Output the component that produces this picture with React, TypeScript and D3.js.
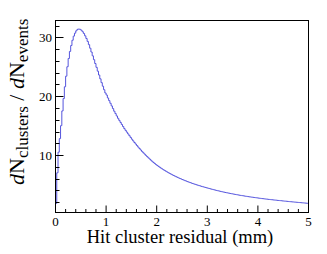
import React from "react";
import * as d3 from "d3";

const binWidth = 0.025;
const xMin = 0;
const xMax = 5;
const counts: number[] = [
  1.8, 7.0, 10.5, 12.8, 15.0, 17.5, 19.6, 21.6, 23.4, 25.0,
  26.4, 27.6, 28.6, 29.5, 30.2, 30.7, 31.1, 31.35, 31.4, 31.35,
  31.2, 30.95, 30.65, 30.25, 29.8, 29.3, 28.75, 28.15, 27.5, 26.85,
  26.2, 25.55, 24.9, 24.25, 23.6, 22.95, 22.3, 21.7, 21.1, 20.55,
  20.2, 19.7, 19.25, 18.8, 18.35, 17.9, 17.45, 17.05, 16.65, 16.25,
  15.9, 15.55, 15.2, 14.85, 14.5, 14.2, 13.9, 13.6, 13.3, 13.0,
  12.7, 12.42, 12.14, 11.88, 11.62, 11.36, 11.11, 10.87, 10.63, 10.4,
  10.18, 9.96, 9.75, 9.54, 9.34, 9.14, 8.95, 8.76, 8.58, 8.4,
  8.25, 8.09, 7.94, 7.79, 7.65, 7.51, 7.38, 7.25, 7.12, 7.0,
  6.88, 6.76, 6.65, 6.54, 6.43, 6.33, 6.23, 6.13, 6.03, 5.94,
  5.85, 5.76, 5.67, 5.59, 5.5, 5.42, 5.34, 5.26, 5.19, 5.11,
  5.04, 4.97, 4.9, 4.83, 4.77, 4.7, 4.64, 4.58, 4.52, 4.46,
  4.4, 4.34, 4.28, 4.22, 4.17, 4.11, 4.06, 4.0, 3.95, 3.9,
  3.85, 3.8, 3.75, 3.7, 3.66, 3.61, 3.57, 3.53, 3.48, 3.44,
  3.4, 3.36, 3.32, 3.28, 3.24, 3.2, 3.16, 3.13, 3.09, 3.06,
  3.02, 2.99, 2.95, 2.92, 2.89, 2.86, 2.83, 2.8, 2.77, 2.74,
  2.71, 2.68, 2.65, 2.62, 2.6, 2.57, 2.54, 2.52, 2.49, 2.47,
  2.44, 2.42, 2.39, 2.37, 2.35, 2.32, 2.3, 2.28, 2.26, 2.23,
  2.21, 2.19, 2.17, 2.15, 2.12, 2.1, 2.08, 2.06, 2.04, 2.02,
  2.0, 1.98, 1.96, 1.94, 1.92, 1.9, 1.88, 1.86, 1.84, 1.82,
];
const xTickLabels = ["0", "1", "2", "3", "4", "5"];
const yTickLabels = ["10", "20", "30"];
const yDomain = [0.26, 32.85];

const W = 327;
const H = 254;
const left = 55.5;
const right = 308.5;
const top = 20.5;
const bottom = 212.5;
const font = "Liberation Serif, Times New Roman, DejaVu Serif, serif";
const lineColor = "#5555dd";
const txt = { fontFamily: font };

export default function App() {
  const x = d3.scaleLinear().domain([xMin, xMax]).range([left, right]);
  const y = d3.scaleLinear().domain(yDomain).range([bottom, top]);

  const pts: [number, number][] = [];
  pts.push([x(xMin), bottom]);
  counts.forEach((c, i) => {
    const x0 = xMin + i * binWidth;
    const x1 = x0 + binWidth;
    pts.push([x(x0), y(c)]);
    pts.push([x(x1), y(c)]);
  });
  const path = d3.line()(pts) || "";

  const xMajor = xTickLabels.map((t) => +t);
  const xMinor = d3.range(0, 26).map((i) => i * 0.2).filter((v) => Math.abs(v - Math.round(v)) > 1e-6);
  const yMajor = yTickLabels.map((t) => +t);
  const yMinor = d3.range(1, 17).map((i) => i * 2).filter((v) => v % 10 !== 0 && v >= yDomain[0] && v <= yDomain[1]);

  return (
    <svg width={W} height={H} style={{ position: "absolute", left: 0, top: 0, background: "#fff" }}>
      <rect x={0} y={0} width={W} height={H} fill="#fff" />
      <clipPath id="plotclip">
        <rect x={left} y={top} width={right - left} height={bottom - top} />
      </clipPath>
      <path d={path} fill="none" stroke={lineColor} strokeWidth={1} clipPath="url(#plotclip)" />
      <rect x={left} y={top} width={right - left} height={bottom - top} fill="none" stroke="#000" strokeWidth={1} />
      {xMajor.map((v) => (
        <line key={"xM" + v} x1={x(v)} x2={x(v)} y1={bottom} y2={bottom - 7} stroke="#000" strokeWidth={1} />
      ))}
      {xMinor.map((v) => (
        <line key={"xm" + v} x1={x(v)} x2={x(v)} y1={bottom} y2={bottom - 3.5} stroke="#000" strokeWidth={1} />
      ))}
      {yMajor.map((v) => (
        <line key={"yM" + v} x1={left} x2={left + 8} y1={Math.round(y(v)) + 0.5} y2={Math.round(y(v)) + 0.5} stroke="#000" strokeWidth={1} />
      ))}
      {yMinor.map((v) => (
        <line key={"ym" + v} x1={left} x2={left + 4} y1={Math.round(y(v)) + 0.5} y2={Math.round(y(v)) + 0.5} stroke="#000" strokeWidth={1} />
      ))}
      {xTickLabels.map((t) => (
        <text key={"xl" + t} x={x(+t)} y={225.5} fontSize={13} textAnchor="middle" fill="#000" style={txt}>{t}</text>
      ))}
      {yTickLabels.map((t) => (
        <text key={"yl" + t} x={52} y={y(+t) + 4.5} fontSize={13} textAnchor="end" fill="#000" style={txt}>{t}</text>
      ))}
      <text x={180} y={243} fontSize={18.5} textAnchor="middle" fill="#000" style={txt}>Hit cluster residual (mm)</text>
      <text transform="translate(24,185) rotate(-90)" fontSize={22} fill="#000" style={txt}>
        <tspan fontStyle="italic">d</tspan>
        <tspan>N</tspan>
        <tspan fontSize={17} dy={4}>clusters</tspan>
        <tspan dy={-4}> / </tspan>
        <tspan fontStyle="italic">d</tspan>
        <tspan>N</tspan>
        <tspan fontSize={17} dy={4}>events</tspan>
      </text>
    </svg>
  );
}
